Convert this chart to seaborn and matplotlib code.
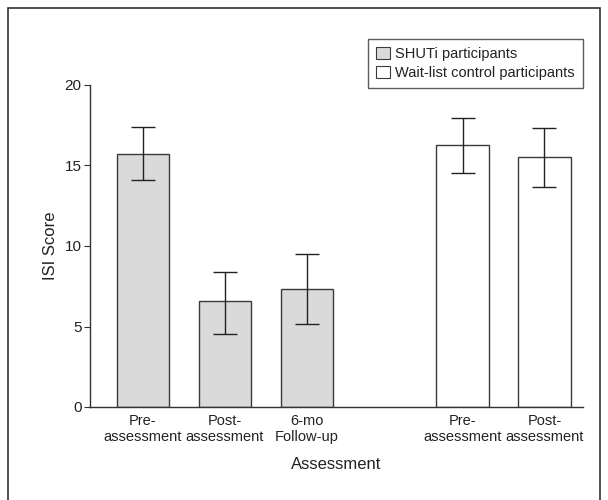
import matplotlib
matplotlib.use("Agg")
import matplotlib.pyplot as plt
import matplotlib.patches as mpatches
import seaborn as sns
import pandas as pd
import numpy as np

# ---- data ----
labels = ["Pre-\nassessment", "Post-\nassessment", "6-mo\nFollow-up", "Pre-\nassessment", "Post-\nassessment"]
groups = ["SHUTi participants", "SHUTi participants", "SHUTi participants",
          "Wait-list control participants", "Wait-list control participants"]
positions = [0, 1, 2, 3.9, 4.9]
means = [15.72, 6.60, 7.35, 16.26, 15.53]
err_low = [14.12, 4.55, 5.15, 14.56, 13.69]
err_high = [17.38, 8.37, 9.49, 17.96, 17.36]
yticks = [0, 5, 10, 15, 20]

sns.set_theme(style="white")
plt.rcParams['font.family'] = ['Liberation Sans Narrow', 'Liberation Sans', 'DejaVu Sans']
plt.rcParams['font.size'] = 10

df = pd.DataFrame({"pos": positions, "mean": means, "group": groups})
palette = {"SHUTi participants": "#dadada", "Wait-list control participants": "#ffffff"}
edge = "#3a3a3a"

fig = plt.figure(figsize=(6.08, 5.0), dpi=100)
ax = fig.add_axes([90/608, 1-407/500, (583-90)/608, (407-85)/500])

sns.barplot(data=df, x="pos", y="mean", hue="group", palette=palette, native_scale=True,
            dodge=False, width=0.64, edgecolor=edge, linewidth=1.0, errorbar=None,
            legend=False, ax=ax)

means_a = np.array(means)
yerr = np.vstack([means_a - np.array(err_low), np.array(err_high) - means_a])
ax.errorbar(positions, means, yerr=yerr, fmt="none", ecolor="#222222",
            elinewidth=1.0, capsize=8.5, capthick=1.0)

ax.set_ylim(0, 20)
ax.set_xlim(-0.645, 5.37)
ax.set_yticks(yticks)
ax.set_yticklabels([str(v) for v in yticks], fontsize=11, color="#222222")
ax.set_xticks(positions)
ax.set_xticklabels(labels, fontsize=10.5, color="#222222", linespacing=1.15)
ax.tick_params(axis="y", length=4, width=0.8, color="#333333", direction="out", left=True, pad=2)
ax.tick_params(axis="x", length=0, pad=5)
for s in ["top", "right"]:
    ax.spines[s].set_visible(False)
for s in ["left", "bottom"]:
    ax.spines[s].set_color("#333333")
    ax.spines[s].set_linewidth(1.0)

ax.set_xlabel("Assessment", fontsize=12, color="#222222", labelpad=10)
ax.set_ylabel("ISI Score", fontsize=12, color="#222222", labelpad=5)

handles = [mpatches.Patch(facecolor=palette[g], edgecolor=edge, linewidth=0.8, label=g)
           for g in ["SHUTi participants", "Wait-list control participants"]]
leg = ax.legend(handles=handles, loc="upper right", bbox_to_anchor=(583/608, 1-39/500),
                bbox_transform=fig.transFigure, frameon=True, fancybox=False,
                edgecolor="#333333", fontsize=10.5, handlelength=0.9, handleheight=0.9,
                handletextpad=0.4, borderpad=0.55, labelspacing=0.35, borderaxespad=0)
leg.get_frame().set_linewidth(1.0)
for t in leg.get_texts():
    t.set_color("#222222")

# outer frame
rect = mpatches.Rectangle((8/608, -0.05), (600-8)/608, 1.05 - 8/500, transform=fig.transFigure,
                          fill=False, edgecolor="#333333", linewidth=1.2, clip_on=False)
fig.patches.append(rect)

fig.savefig("out.png", dpi=100, facecolor="white")
